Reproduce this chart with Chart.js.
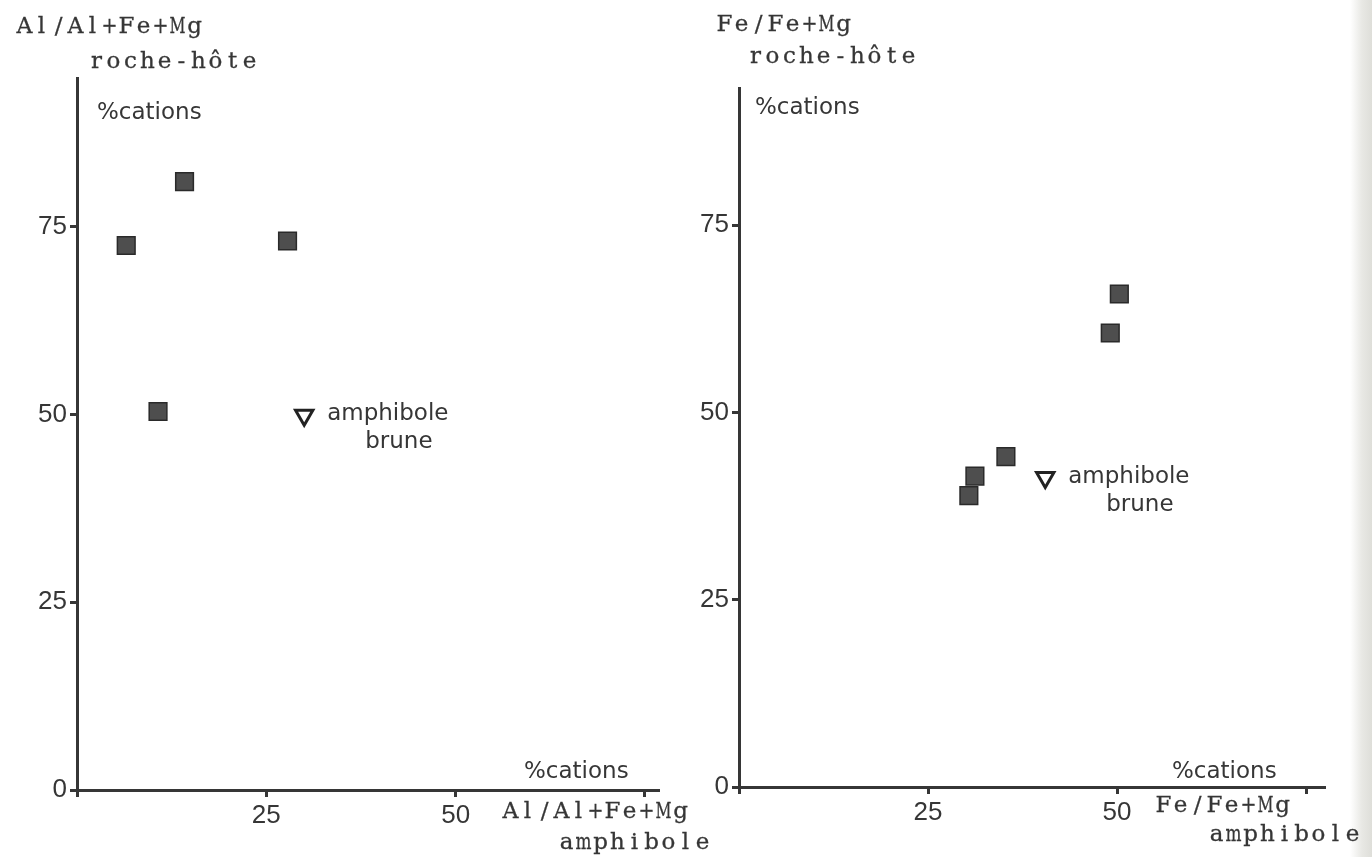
<!DOCTYPE html>
<html>
<head>
<meta charset="utf-8">
<script src="https://cdn.jsdelivr.net/npm/chart.js@4.4.0/dist/chart.umd.min.js"></script>
<style>
body{margin:0;width:1372px;height:857px;overflow:hidden;background:linear-gradient(to right,#fff 0,#fff 1350px,#e8e8e4 1362px,#deded9 1372px);}
canvas{position:absolute;top:0}
#c1{left:0}
#c2{left:686px}
</style>
</head>
<body>
<canvas id="c1" width="740" height="857"></canvas>
<canvas id="c2" width="686" height="857"></canvas>
<script>
// Al/Al+Fe+Mg : amphibole (x) vs roche-hote (y), % cations
var alAmphX = [6.5, 14.2, 27.8, 10.7];
var alRocheY = [72.5, 81.0, 73.1, 50.4];
var alBruneX = [30.0];
var alBruneY = [49.9];

// Fe/Fe+Mg : amphibole (x) vs roche-hote (y), % cations
var feAmphX = [30.4, 31.2, 35.3, 49.1, 50.3];
var feRocheY = [38.9, 41.5, 44.1, 60.6, 65.8];
var feBruneX = [40.5];
var feBruneY = [41.3];

var tickValues = [0, 25, 50, 75];
var xTickLabels = ["", "25", "50", ""];
var yTickLabels = ["0", "25", "50", "75"];

var ink = "#363636";
var sansFont = "DejaVu Sans";

// typewriter text: one glyph per fixed cell
function typeText(ctx, str, x, y, pitch) {
  ctx.save();
  ctx.font = "23px 'DejaVu Serif', 'Liberation Serif', serif";
  ctx.fillStyle = ink;
  ctx.strokeStyle = ink;
  ctx.lineWidth = 0.3;
  ctx.textBaseline = "middle";
  ctx.textAlign = "center";
  for (var i = 0; i < str.length; i++) {
    var w = ctx.measureText(str[i]).width;
    var s = Math.min(1, (pitch - 1) / w);
    ctx.save();
    ctx.translate(x + i * pitch + pitch / 2, y);
    ctx.scale(s, 1);
    ctx.fillText(str[i], 0, 0);
    ctx.strokeText(str[i], 0, 0);
    ctx.restore();
  }
  ctx.restore();
}

function sansText(ctx, str, x, y) {
  ctx.save();
  ctx.font = "23px '" + sansFont + "'";
  ctx.fillStyle = ink;
  ctx.textBaseline = "middle";
  ctx.textAlign = "left";
  ctx.fillText(str, x, y);
  ctx.restore();
}

function notesPlugin(notes) {
  return {
    id: "notes",
    afterDraw: function (chart) {
      var ctx = chart.ctx;
      notes.forEach(function (n) {
        if (n.mono) typeText(ctx, n.t, n.x, n.y, 17);
        else sansText(ctx, n.t, n.x, n.y);
      });
      // label beside the open triangle
      var p = chart.getDatasetMeta(1).data[0];
      sansText(ctx, "amphibole", p.x + 23, p.y - 1);
      sansText(ctx, "brune", p.x + 61, p.y + 27);
    }
  };
}

function pts(xs, ys) {
  return xs.map(function (x, i) { return {x: x, y: ys[i]}; });
}

function makeChart(id, sq, tri, xmax, ymax, yW, xH, pad, notes) {
  function axis(max, isX, size) {
    return {
      type: "linear",
      min: 0,
      max: max,
      afterFit: function (s) { if (isX) s.height = size; else s.width = size; },
      border: {display: true, color: ink, width: 3},
      grid: {drawOnChartArea: false, drawTicks: true, tickLength: 7, tickWidth: 3, tickColor: ink},
      ticks: {
        stepSize: 25,
        includeBounds: false,
        padding: 3,
        color: ink,
        font: {family: "Liberation Sans", size: 26},
        callback: function (v) {
          var i = tickValues.indexOf(v);
          if (i < 0) return "";
          return isX ? xTickLabels[i] : yTickLabels[i];
        }
      }
    };
  }
  return new Chart(document.getElementById(id), {
    type: "scatter",
    data: {
      datasets: [{
        data: sq,
        pointStyle: "rect",
        pointRadius: 12.5,
        backgroundColor: "#4e4e4e",
        borderColor: "#2a2a2a",
        borderWidth: 1.5
      }, {
        data: tri,
        pointStyle: "triangle",
        rotation: 180,
        pointRadius: 10,
        backgroundColor: "#ffffff",
        borderColor: "#222",
        borderWidth: 3
      }]
    },
    options: {
      responsive: false,
      animation: false,
      devicePixelRatio: 1,
      layout: {padding: pad},
      plugins: {legend: {display: false}, tooltip: {enabled: false}},
      scales: {
        x: axis(xmax, true, xH),
        y: axis(ymax, false, yW)
      }
    },
    plugins: [notesPlugin(notes)]
  });
}

makeChart("c1", pts(alAmphX, alRocheY), pts(alBruneX, alBruneY),
  76.85, 94.8, 77, 67, {left: 0, right: 81, top: 78, bottom: 0}, [
    {mono: true, t: "Al/Al+Fe+Mg", x: 16, y: 27},
    {mono: true, t: "roche-hôte", x: 88, y: 62},
    {t: "%cations", x: 97, y: 113},
    {t: "%cations", x: 524, y: 772},
    {mono: true, t: "Al/Al+Fe+Mg", x: 502, y: 812},
    {mono: true, t: "amphibole", x: 558, y: 843}
  ]);

makeChart("c2", pts(feAmphX, feRocheY), pts(feBruneX, feBruneY),
  77.5, 93.3, 53, 70, {left: 0, right: 47, top: 88, bottom: 0}, [
    {mono: true, t: "Fe/Fe+Mg", x: 30, y: 25},
    {mono: true, t: "roche-hôte", x: 61, y: 57},
    {t: "%cations", x: 69, y: 108},
    {t: "%cations", x: 486, y: 772},
    {mono: true, t: "Fe/Fe+Mg", x: 469, y: 806},
    {mono: true, t: "amphibole", x: 522, y: 835}
  ]);
</script>
</body>
</html>
